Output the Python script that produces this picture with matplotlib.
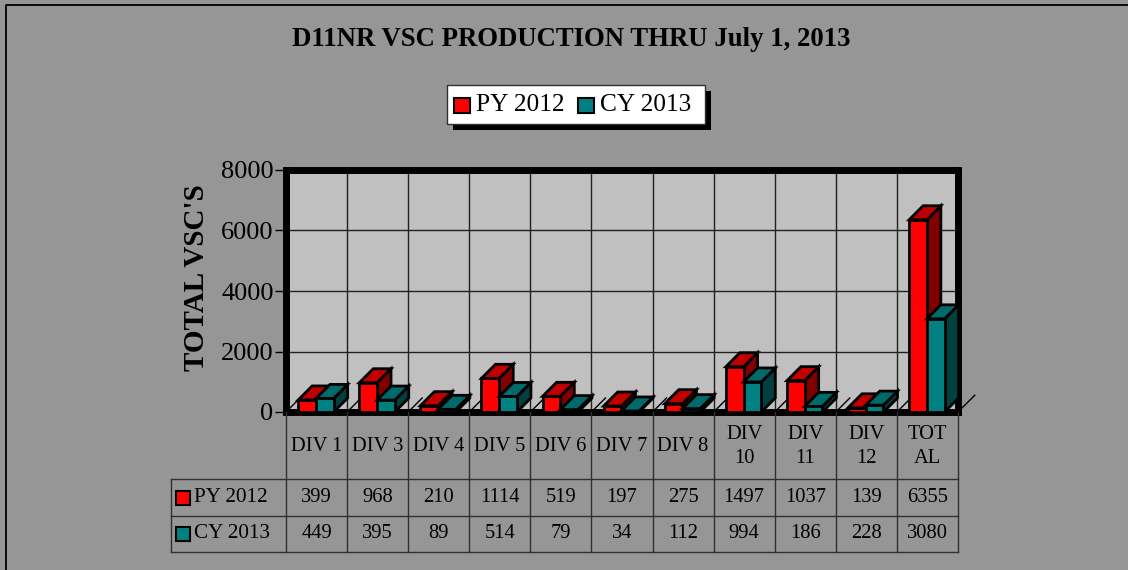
import matplotlib
matplotlib.use("Agg")
import matplotlib.pyplot as plt
from matplotlib.patches import Rectangle, Polygon
from matplotlib.lines import Line2D

categories = ["DIV 1", "DIV 3", "DIV 4", "DIV 5", "DIV 6", "DIV 7", "DIV 8",
              "DIV\n10", "DIV\n11", "DIV\n12", "TOT\nAL"]
py_2012 = [399, 968, 210, 1114, 519, 197, 275, 1497, 1037, 139, 6355]
cy_2013 = [449, 395, 89, 514, 79, 34, 112, 994, 186, 228, 3080]
series_names = ["PY 2012", "CY 2013"]
y_ticks = [0, 2000, 4000, 6000, 8000]

W, H = 1128, 570
plt.rcParams['font.family'] = ['Liberation Serif', 'DejaVu Serif']

# face colours: front, top, side
RED = ("#FF0000", "#C00000", "#800000")
TEAL = ("#008080", "#006A6A", "#004040")


def fx(px):
    return px / W


def fy(py):
    return 1 - py / H


fig = plt.figure(figsize=(W / 100, H / 100), dpi=100)
fig.patch.set_facecolor("#969696")
# outer frame (only top and left edges fall inside the picture)
fig.add_artist(Line2D([fx(6), fx(6), 1], [0, fy(5), fy(5)], color="black", lw=1.3))

ax_l, ax_r, ax_t, ax_b = 286, 958, 170, 412
ax = fig.add_axes([fx(ax_l), fy(ax_b), (ax_r - ax_l) / W, (ax_b - ax_t) / H])
ax.set_facecolor("#C0C0C0")
n = len(categories)
ax.set_xlim(0, n)
ax.set_ylim(0, 8000)
ax.set_xticks([])
ax.set_yticks(y_ticks)
ax.set_yticklabels([str(v) for v in y_ticks])
ax.tick_params(axis="y", direction="out", length=8, width=1, labelsize=19, pad=1)
for s in ax.spines.values():
    s.set_linewidth(5)
    s.set_color("black")
ax.yaxis.grid(True, color="#202020", lw=1)
ax.set_axisbelow(True)
ax.vlines(range(1, n), 0, 8000, color="#202020", lw=1, zorder=0.5)
fig.text(fx(196), fy(278), "TOTAL VSC'S", rotation=90, ha="center", va="center",
         fontsize=21, fontweight="bold")

# 3-D depth in data units
depth_px = 14
dx = depth_px / ((ax_r - ax_l) / n)
dy = depth_px / (ax_b - ax_t) * 8000
bw = 0.29


def prism(x0, h, cols):
    kw = dict(edgecolor="black", lw=2, joinstyle="miter", clip_on=False, zorder=3)
    ax.add_patch(Polygon([(x0 + bw, 0), (x0 + bw + dx, dy), (x0 + bw + dx, h + dy), (x0 + bw, h)],
                         facecolor=cols[2], **kw))
    ax.add_patch(Polygon([(x0, h), (x0 + bw, h), (x0 + bw + dx, h + dy), (x0 + dx, h + dy)],
                         facecolor=cols[1], **kw))
    ax.add_patch(Rectangle((x0, 0), bw, h, facecolor=cols[0], **kw))


for i in range(n):
    ax.add_line(Line2D([i, i + dx], [0, dy], color="black", lw=1, clip_on=False, zorder=2))
    prism(i + 0.2, py_2012[i], RED)
    prism(i + 0.49, cy_2013[i], TEAL)
ax.add_line(Line2D([n, n + dx * 1.2], [0, dy * 1.2], color="black", lw=1, clip_on=False, zorder=2))

# title
fig.text(fx(571), fy(40), "D11NR VSC PRODUCTION THRU July 1, 2013", ha="center", va="center",
         fontsize=19.3, fontweight="bold")

# legend
fig.add_artist(Rectangle((fx(453), fy(130)), fx(258), 39 / H, transform=fig.transFigure,
                         facecolor="black", edgecolor="none"))
fig.add_artist(Rectangle((fx(447), fy(124)), fx(258), 39 / H, transform=fig.transFigure,
                         facecolor="white", edgecolor="#303030", lw=1))
for sx, tx, name, cols in [(454, 476, series_names[0], RED), (578, 600, series_names[1], TEAL)]:
    fig.add_artist(Rectangle((fx(sx), fy(113)), fx(16), 15 / H, transform=fig.transFigure,
                             facecolor=cols[0], edgecolor="black", lw=1.5))
    fig.text(fx(tx), fy(105), name, ha="left", va="center", fontsize=18.3)

# data table
col_w = (ax_r - ax_l) / n
grid_c = "#303030"
t_head, t_r1, t_r2, t_bot, t_left = 412, 479, 516, 552, 171
for i in range(n + 1):
    x = ax_l + i * col_w
    fig.add_artist(Line2D([fx(x), fx(x)], [fy(t_head), fy(t_bot)], color=grid_c, lw=1))
fig.add_artist(Line2D([fx(t_left), fx(t_left)], [fy(t_r1), fy(t_bot)], color=grid_c, lw=1))
for y in (t_r1, t_r2, t_bot):
    fig.add_artist(Line2D([fx(t_left), fx(ax_r)], [fy(y), fy(y)], color=grid_c, lw=1))
for i, cat in enumerate(categories):
    cx = ax_l + (i + 0.5) * col_w
    fig.text(fx(cx), fy((t_head + t_r1) / 2 + 1), cat, ha="center", va="center", fontsize=14.8,
             linespacing=1.35)
    fig.text(fx(cx), fy((t_r1 + t_r2) / 2), str(py_2012[i]), ha="center", va="center", fontsize=14.8)
    fig.text(fx(cx), fy((t_r2 + t_bot) / 2), str(cy_2013[i]), ha="center", va="center", fontsize=14.8)
for (y0, y1), name, cols in [((t_r1, t_r2), series_names[0], RED), ((t_r2, t_bot), series_names[1], TEAL)]:
    ym = (y0 + y1) / 2
    fig.add_artist(Rectangle((fx(176), fy(ym + 7)), fx(14), 14 / H, transform=fig.transFigure,
                             facecolor=cols[0], edgecolor="black", lw=1.5))
    fig.text(fx(194), fy(ym), name, ha="left", va="center", fontsize=15.2)

fig.savefig("out.png", dpi=100, facecolor=fig.get_facecolor())
